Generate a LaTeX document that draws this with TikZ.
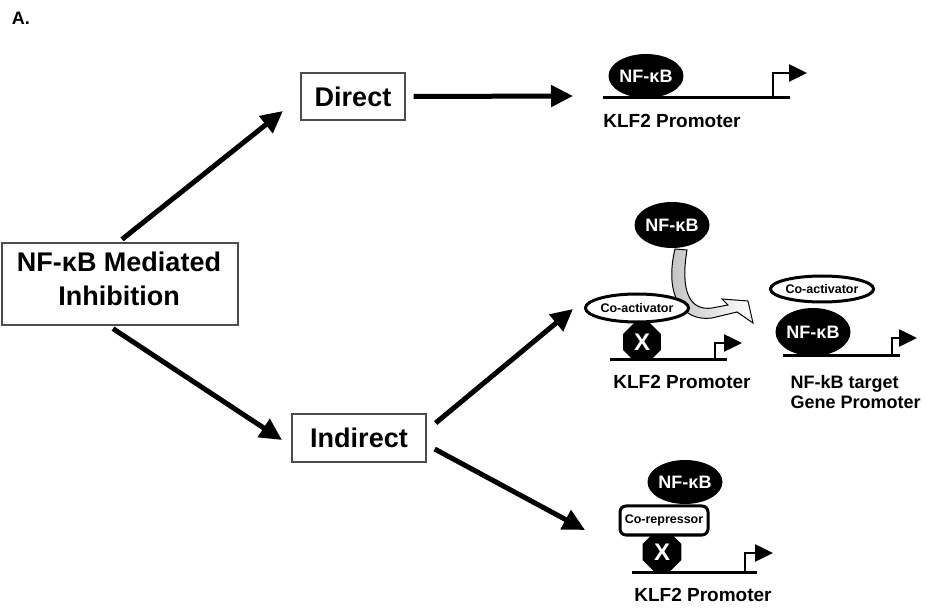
\documentclass[tikz,border=0pt]{standalone}
\usepackage{fontspec}
\setmainfont{Liberation Sans}
\usetikzlibrary{shapes.geometric,arrows.meta}
\tikzset{
 arr/.style={line width=5pt, -{Triangle[length=22pt,width=21pt]}},
 boxn/.style={draw=black!70, line width=1.3pt, inner sep=0pt, align=center, font=\fontsize{27}{32}\selectfont\bfseries},
 nfkb/.style={ellipse, fill=black, text=white, inner sep=0pt, font=\fontsize{18}{20}\selectfont\bfseries},
 coact/.style={ellipse, draw, line width=3pt, fill=white, inner sep=0pt, font=\fontsize{12.5}{14}\selectfont\bfseries},
 corep/.style={rectangle, rounded corners=6pt, draw, line width=3pt, fill=white, inner sep=0pt, font=\fontsize{12.5}{14}\selectfont\bfseries},
 xoct/.style={regular polygon, regular polygon sides=8, fill=black, text=white, inner sep=0pt, font=\fontsize{24}{26}\selectfont\bfseries},
 dna/.style={line width=3pt},
 tss/.style={line width=2.5pt, line join=miter, -{Triangle[length=18pt,width=17pt]}},
 prom/.style={font=\fontsize{19}{22}\selectfont\bfseries},
}
\begin{document}
\begin{tikzpicture}[x=1pt,y=-1pt]
\useasboundingbox (0,0) rectangle (927,609);
\node[font=\fontsize{18}{20}\selectfont\bfseries] (lab) at (21,18) {A.};

% main boxes
\node[boxn, minimum width=236pt, minimum height=82pt] (main) at (120,284) {};
\node[font=\fontsize{27}{34}\selectfont\bfseries, align=center] (mainlbl) at (119,279) {NF-κB Mediated\\Inhibition};
\node[boxn, minimum width=104pt, minimum height=47pt] (direct) at (353,96.5) {Direct};
\node[boxn, minimum width=134pt, minimum height=48pt] (indirect) at (359,438) {Indirect};

% arrow tips
\coordinate (t1) at (283,111);
\coordinate (t2) at (282,440);
\coordinate (t3) at (573,96);
\coordinate (t4) at (573,309);
\coordinate (t5) at (585,530);

\draw[arr] ([shift={(2,-3)}]main.north) -- (t1);
\draw[arr] ([shift={(-7,3)}]main.south) -- (t2);
\draw[arr] ([shift={(8,0)}]direct.east) -- (t3);
\draw[arr] ([shift={(9,-15)}]indirect.east) -- (t4);
\draw[arr] ([shift={(8,11)}]indirect.east) -- (t5);

% ---- top: direct ----
\draw[dna] (603,98) -- (790,98);
\draw[tss] (773,98) -- (773,73) -- (807,73);
\node[nfkb, minimum width=72pt, minimum height=44pt] (nf1) at (646,76) {NF-κB};
\node[prom] (p1) at (672,121) {KLF2 Promoter};

% ---- middle: indirect (co-activator squelching) ----
\shade[left color=gray!50, middle color=gray!12, right color=white, draw=black, line width=1pt]
 (675,249) .. controls (664,295) and (682,322) .. (712,318) -- (737,312) -- (753,323)
 -- (748,301) -- (722,299) -- (728,305) -- (712,308)
 .. controls (690,311) and (680,292) .. (687,250) -- cycle;
\node[nfkb, minimum width=62pt, minimum height=46pt] (nf2) at (672,225) {NF-κB};
\draw[dna] (610,360) -- (727,360);
\draw[tss] (715,360) -- (715,343) -- (742,343);
\node[xoct, minimum size=41pt] (x1) at (642,342) {X};
\node[coact, minimum width=82pt, minimum height=28pt] (ca1) at (637,308) {Co-activator};
\node[prom] (p2) at (682,382) {KLF2 Promoter};

\draw[dna] (783,356) -- (900,356);
\draw[tss] (892,356) -- (892,338) -- (917,338);
\node[nfkb, minimum width=66pt, minimum height=48pt] (nf3) at (813,332) {NF-κB};
\node[coact, minimum width=94pt, minimum height=26pt] (ca2) at (822,289) {Co-activator};
\node[prom, font=\fontsize{18}{20}\selectfont\bfseries, align=left, anchor=west] (p3) at (787,392) {NF-kB target\\Gene Promoter};

% ---- bottom: indirect (co-repressor) ----
\draw[dna] (632,572) -- (757,572);
\draw[tss] (745,572) -- (745,553) -- (773,553);
\node[xoct, minimum size=42pt] (x2) at (662,552) {X};
\node[nfkb, minimum width=70pt, minimum height=44pt] (nf4) at (685,482) {NF-κB};
\node[corep, minimum width=88pt, minimum height=29pt] (cr) at (664,520.5) {Co-repressor};
\node[prom] (p4) at (703,595) {KLF2 Promoter};
\end{tikzpicture}
\end{document}
